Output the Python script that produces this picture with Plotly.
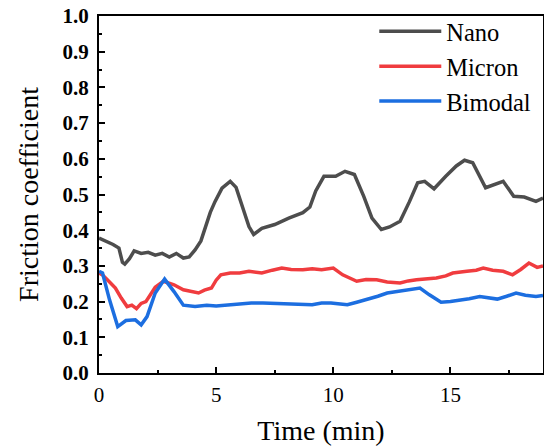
import plotly.graph_objects as go

nano_t = [0, 0.3, 0.6, 0.85, 1.0, 1.1, 1.3, 1.5, 1.8, 2.1, 2.4, 2.7, 3.0, 3.3, 3.6, 3.85, 4.1, 4.35, 4.55,
          4.75, 4.95, 5.25, 5.6, 5.85, 6.15, 6.4, 6.6, 6.95, 7.5, 8.1, 8.7, 9.0, 9.25, 9.6, 10.1, 10.5,
          10.9, 11.3, 11.65, 12.05, 12.4, 12.85, 13.25, 13.6, 13.9, 14.3, 14.8, 15.25, 15.6, 15.95,
          16.5, 16.9, 17.25, 17.7, 18.15, 18.65, 18.95]
nano_v = [0.378, 0.37, 0.36, 0.35, 0.31, 0.305, 0.32, 0.342, 0.335, 0.338, 0.33, 0.335, 0.325, 0.335,
          0.322, 0.325, 0.345, 0.37, 0.41, 0.45, 0.48, 0.518, 0.537, 0.52, 0.46, 0.41, 0.388, 0.405,
          0.416, 0.434, 0.449, 0.465, 0.51, 0.551, 0.551, 0.565, 0.556, 0.495, 0.434, 0.402, 0.409,
          0.425, 0.48, 0.533, 0.537, 0.516, 0.551, 0.58, 0.596, 0.589, 0.519, 0.528, 0.537, 0.495,
          0.493, 0.481, 0.49]

micron_t = [0, 0.15, 0.45, 0.7, 0.95, 1.2, 1.4, 1.6, 1.8, 2.0, 2.2, 2.4, 2.75, 3.2, 3.6, 3.9, 4.25, 4.5,
            4.8, 5.0, 5.2, 5.6, 6.0, 6.4, 6.95, 7.4, 7.8, 8.2, 8.7, 9.1, 9.5, 10.0, 10.4, 11.0, 11.4,
            11.85, 12.3, 12.85, 13.2, 13.55, 14.0, 14.4, 14.8, 15.1, 15.7, 16.1, 16.4, 16.8, 17.25,
            17.65, 18.0, 18.35, 18.7, 18.95]
micron_v = [0.28, 0.275, 0.255, 0.238, 0.21, 0.186, 0.19, 0.18, 0.195, 0.2, 0.22, 0.24, 0.257, 0.247,
            0.233, 0.228, 0.224, 0.232, 0.238, 0.26, 0.275, 0.28, 0.28, 0.285, 0.28, 0.288, 0.294,
            0.29, 0.289, 0.292, 0.289, 0.294, 0.275, 0.257, 0.262, 0.261, 0.255, 0.252, 0.258, 0.261,
            0.264, 0.266, 0.272, 0.28, 0.285, 0.288, 0.294, 0.288, 0.285, 0.275, 0.29, 0.308, 0.296,
            0.30]

bimodal_t = [0, 0.15, 0.45, 0.8, 1.15, 1.55, 1.8, 2.05, 2.4, 2.8, 3.2, 3.6, 4.1, 4.6, 5.0, 5.5, 6.0,
             6.5, 7.0, 7.5, 8.0, 8.4, 8.8, 9.1, 9.5, 9.9, 10.3, 10.6, 11.0, 11.4, 11.9, 12.3, 12.7,
             13.1, 13.7, 14.1, 14.6, 15.0, 15.4, 15.8, 16.25, 16.6, 17.0, 17.4, 17.8, 18.2, 18.65,
             18.95]
bimodal_v = [0.285, 0.28, 0.205, 0.13, 0.147, 0.149, 0.135, 0.158, 0.224, 0.263, 0.228, 0.19, 0.186,
             0.19, 0.188, 0.191, 0.193, 0.196, 0.196, 0.195, 0.193, 0.191, 0.19, 0.191, 0.196, 0.196,
             0.193, 0.191, 0.198, 0.205, 0.215, 0.224, 0.228, 0.233, 0.238, 0.219, 0.198, 0.2, 0.203,
             0.208, 0.214, 0.21, 0.207, 0.215, 0.224, 0.218, 0.214, 0.217]

FONT = "Liberation Serif"

fig = go.Figure()
fig.add_trace(go.Scatter(x=nano_t, y=nano_v, mode="lines", name="Nano",
                         line=dict(color="#4d4d4d", width=3.5)))
fig.add_trace(go.Scatter(x=micron_t, y=micron_v, mode="lines", name="Micron",
                         line=dict(color="#f03c3f", width=3.5)))
fig.add_trace(go.Scatter(x=bimodal_t, y=bimodal_v, mode="lines", name="Bimodal",
                         line=dict(color="#1c6ee0", width=3.5)))

fig.update_layout(
    width=544, height=448,
    margin=dict(l=99, r=1, t=16, b=75, autoexpand=False),
    plot_bgcolor="white", paper_bgcolor="white",
    font=dict(family=FONT, color="black", size=20),
    showlegend=True,
    legend=dict(x=0.62, y=1.02, xanchor="left", yanchor="top",
                font=dict(family=FONT, size=24.5, color="black"),
                itemwidth=62, bgcolor="rgba(0,0,0,0)", tracegroupgap=0),
    xaxis=dict(range=[0, 18.95], dtick=5, tick0=0, showline=True, mirror=True, automargin=False,
               linecolor="black", linewidth=2, ticks="inside", ticklen=6, tickwidth=2,
               tickcolor="black", showgrid=False, zeroline=False,
               minor=dict(dtick=2.5, ticks="inside", ticklen=3, tickwidth=2, tickcolor="black"),
               tickfont=dict(family=FONT, size=21, color="black"),
               ticklabelstandoff=2,
               title=dict(text="Time (min)", font=dict(family=FONT, size=28, color="black"),
                          standoff=14)),
    yaxis=dict(range=[0, 1.0], dtick=0.1, tick0=0, tickformat=".1f", showline=True, mirror=True,
               automargin=False,
               linecolor="black", linewidth=2, ticks="inside", ticklen=6, tickwidth=2,
               tickcolor="black", showgrid=False, zeroline=False,
               minor=dict(dtick=0.05, ticks="inside", ticklen=3, tickwidth=2, tickcolor="black"),
               tickfont=dict(family=FONT, size=21, color="black", weight="bold"),
               ticklabelstandoff=4,
               title=dict(text="Friction coefficient", font=dict(family=FONT, size=28, color="black"),
                          standoff=16)),
)

# remove the browser's default 8px body margin so the figure fills the window exactly
fig.write_html("out.html", config={"displayModeBar": False},
               post_script="document.body.style.margin='0px';")
